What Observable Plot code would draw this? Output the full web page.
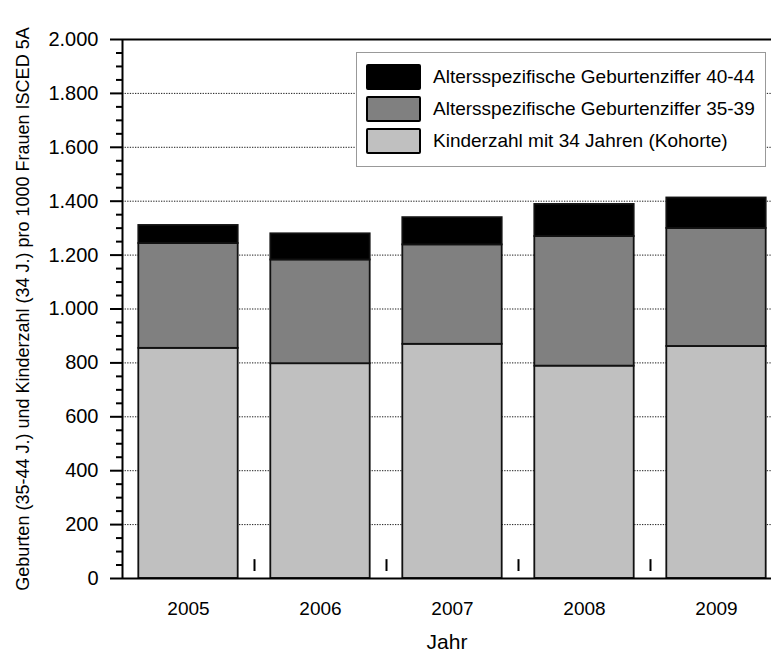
<!DOCTYPE html>
<html>
<head>
<meta charset="utf-8">
<script src="https://cdn.jsdelivr.net/npm/d3@7"></script>
<script src="https://cdn.jsdelivr.net/npm/@observablehq/plot@0.6"></script>
<style>
  html, body { margin: 0; padding: 0; background: #fff; overflow: hidden; }
  #wrap { position: relative; width: 771px; height: 652px; font-family: "Liberation Sans", Arial, sans-serif; }
  #wrap svg { overflow: hidden; }
  .legend { position: absolute; left: 356px; top: 52px; width: 410px; height: 115px; border: 1px solid #999; background: #fff; box-sizing: border-box; }
  .legend .row { position: absolute; left: 9px; height: 26px; display: flex; align-items: center; }
  .legend .sw { width: 51px; height: 22px; border: 2px solid #000; border-radius: 2px; margin-right: 12px; }
  .legend .lab { font-size: 19px; color: #000; white-space: nowrap; }
</style>
</head>
<body>
<div id="wrap"></div>
<script>
// ---- data ----
const years = [2005, 2006, 2007, 2008, 2009];
const kinderzahl34 = [854, 797, 869, 788, 861];   // Kinderzahl mit 34 Jahren (Kohorte)
const gbz3539 = [389, 385, 369, 481, 438];        // Altersspezifische Geburtenziffer 35-39
const gbz4044 = [67, 97, 101, 119, 113];          // Altersspezifische Geburtenziffer 40-44
const seriesNames = [
  "Kinderzahl mit 34 Jahren (Kohorte)",
  "Altersspezifische Geburtenziffer 35-39",
  "Altersspezifische Geburtenziffer 40-44"
];
const seriesColors = ["#c0c0c0", "#808080", "#000000"];
const yTickValues = [0, 200, 400, 600, 800, 1000, 1200, 1400, 1600, 1800, 2000];
const gridValues = [200, 400, 600, 800, 1000, 1200, 1400, 1600, 1800];
const markerX = [2005.5, 2006.5, 2007.5, 2008.5];
const markerLow = [26, 26, 26, 26];
const markerHigh = [70, 70, 70, 70];
const yLabel = "Geburten (35-44 J.) und Kinderzahl (34 J.) pro 1000 Frauen ISCED 5A";
const xLabel = "Jahr";

// ---- build stacked rows ----
const seriesValues = [kinderzahl34, gbz3539, gbz4044];
const rows = [];
years.forEach((yr, i) => {
  let base = 0;
  seriesValues.forEach((vals, s) => {
    rows.push({year: yr, series: seriesNames[s], y1: base, y2: base + vals[i]});
    base += vals[i];
  });
});
const markers = markerX.map((x, i) => ({x, lo: markerLow[i], hi: markerHigh[i]}));

const de = d3.formatLocale({decimal: ",", thousands: ".", grouping: [3], currency: ["", " €"]});
const fmt = de.format(",");
const minorTicks = d3.range(0, 2001, 50).filter(v => v % 200 !== 0);
const halfBar = 0.3765;

const chart = Plot.plot({
  width: 771,
  height: 652,
  marginLeft: 122,
  marginTop: 39,
  marginBottom: 74,
  marginRight: 0,
  style: {fontFamily: "Liberation Sans, Arial, sans-serif", fontSize: "19px", color: "#000", background: "#fff"},
  x: {domain: [2004.5, 2009.5], range: [122, 782]},
  y: {domain: [0, 2000]},
  color: {domain: seriesNames, range: seriesColors},
  marks: [
    Plot.ruleY(gridValues, {stroke: "#000", strokeWidth: 1, strokeDasharray: "1.3,1.3", strokeOpacity: 0.9}),
    Plot.rectY(rows, {
      x1: d => d.year - halfBar,
      x2: d => d.year + halfBar,
      y1: "y1", y2: "y2",
      fill: "series",
      stroke: "#111",
      strokeWidth: 1.8,
      inset: 0
    }),
    Plot.ruleX(markers, {x: "x", y1: "lo", y2: "hi", stroke: "#000", strokeWidth: 2}),
    Plot.ruleX([2004.5], {y1: 0, y2: 2000, stroke: "#000", strokeWidth: 2}),
    Plot.ruleY([0], {stroke: "#000", strokeWidth: 2.2}),
    Plot.ruleY([2000], {stroke: "#000", strokeWidth: 2.2}),
    Plot.axisY(minorTicks, {tickSize: 6, fill: "none", strokeWidth: 2, label: null}),
    Plot.axisY(yTickValues, {tickSize: 12, tickPadding: 12, tickFormat: fmt, strokeWidth: 2, fontSize: 20, label: null}),
    Plot.axisX(years, {tickSize: 0, tickPadding: 23, tickFormat: d => String(d), fontSize: 19, label: null}),
    Plot.text([yLabel], {frameAnchor: "left", textAnchor: "middle", lineAnchor: "middle", rotate: -90, dx: -99, fontSize: 18, text: d => d}),
    Plot.text([xLabel], {frameAnchor: "bottom", textAnchor: "middle", lineAnchor: "middle", dy: 64, fontSize: 21, text: d => d})
  ]
});

const wrap = document.getElementById("wrap");
wrap.appendChild(chart);

// legend (HTML overlay, top-to-bottom order as in the original)
const legend = document.createElement("div");
legend.className = "legend";
const order = [2, 1, 0];
const rowTops = [11, 43, 75];
order.forEach((s, k) => {
  const r = document.createElement("div");
  r.className = "row";
  r.style.top = rowTops[k] + "px";
  const sw = document.createElement("div");
  sw.className = "sw";
  sw.style.background = seriesColors[s];
  const lab = document.createElement("span");
  lab.className = "lab";
  lab.textContent = seriesNames[s];
  r.appendChild(sw);
  r.appendChild(lab);
  legend.appendChild(r);
});
wrap.appendChild(legend);
</script>
</body>
</html>
